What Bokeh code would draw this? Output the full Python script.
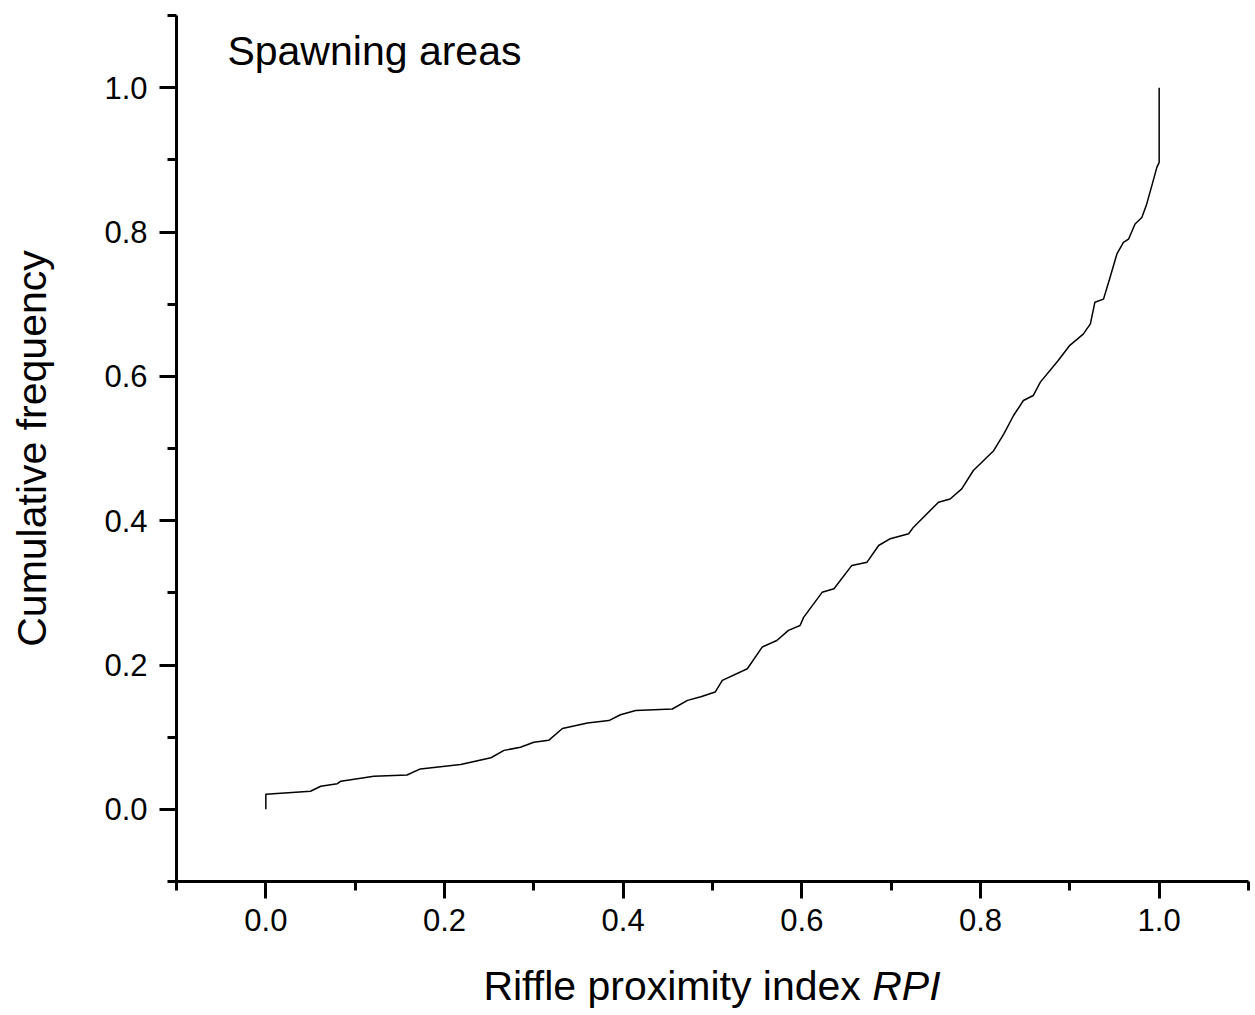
import math
from bokeh.plotting import figure
from bokeh.models import Range1d, FixedTicker, Label, Div, CustomJSTickFormatter
from bokeh.layouts import column
from bokeh.embed import file_html
from bokeh.resources import INLINE

# Data (cumulative frequency curve)
rpi = [0.0, 0.0, 0.05, 0.0615, 0.080, 0.084, 0.121, 0.158, 0.173, 0.218,
       0.252, 0.2666, 0.285, 0.300, 0.3166, 0.332, 0.36, 0.384, 0.397, 0.414,
       0.455, 0.472, 0.487, 0.503, 0.511, 0.539, 0.5556, 0.572, 0.585, 0.598,
       0.602, 0.6227, 0.636, 0.656, 0.673, 0.686, 0.699, 0.7196, 0.725, 0.753,
       0.766, 0.779, 0.792, 0.8147, 0.826, 0.837, 0.848, 0.859, 0.867, 0.887,
       0.900, 0.915, 0.923, 0.928, 0.9377, 0.945, 0.9527, 0.960, 0.9657, 0.973,
       0.9806, 0.986, 0.9918, 0.9974, 1.0, 1.0]
cum_freq = [0.0, 0.021, 0.025, 0.032, 0.0355, 0.039, 0.046, 0.0475, 0.056, 0.062,
            0.0715, 0.0817, 0.086, 0.093, 0.0956, 0.112, 0.1196, 0.123, 0.131, 0.137,
            0.139, 0.151, 0.156, 0.1625, 0.1787, 0.1948, 0.2248, 0.234, 0.248, 0.2548,
            0.266, 0.3007, 0.3056, 0.338, 0.3425, 0.3656, 0.375, 0.3818, 0.391, 0.4256,
            0.430, 0.444, 0.4695, 0.497, 0.520, 0.5457, 0.5665, 0.5734, 0.592, 0.622,
            0.643, 0.6585, 0.6727, 0.7026, 0.707, 0.737, 0.7696, 0.7855, 0.790, 0.811,
            0.820, 0.8386, 0.8643, 0.8896, 0.8965, 1.0]

major_ticks = [0.0, 0.2, 0.4, 0.6, 0.8, 1.0]
minor_ticks = [-0.1, 0.1, 0.3, 0.5, 0.7, 0.9, 1.1]

FONT = "Liberation Sans"

p = figure(width=1255, height=955, output_backend="svg", toolbar_location=None,
           x_range=Range1d(-0.1, 1.1), y_range=Range1d(-0.1, 1.1),
           min_border_left=176, min_border_right=7, min_border_top=15,
           min_border_bottom=74)
p.outline_line_color = None
p.xgrid.visible = False
p.ygrid.visible = False
p.background_fill_color = "white"
p.border_fill_color = "white"

for ax in (p.xaxis[0], p.yaxis[0]):
    ax.ticker = FixedTicker(ticks=major_ticks, minor_ticks=minor_ticks)
    ax.formatter = CustomJSTickFormatter(code="return tick.toFixed(1);")
    ax.axis_line_width = 3
    ax.axis_line_color = "black"
    ax.major_tick_line_width = 3
    ax.minor_tick_line_width = 3
    ax.major_tick_line_color = "black"
    ax.minor_tick_line_color = "black"
    ax.major_tick_out = 17
    ax.major_tick_in = 0
    ax.minor_tick_out = 9
    ax.minor_tick_in = 0
    ax.major_label_text_font = FONT
    ax.major_label_text_font_size = "31px"
    ax.major_label_text_color = "black"
    ax.major_label_standoff = 10

p.yaxis[0].major_label_standoff = 12
p.yaxis[0].axis_label = "Cumulative frequency"
p.yaxis[0].axis_label_text_font = FONT
p.yaxis[0].axis_label_text_font_size = "41px"
p.yaxis[0].axis_label_text_font_style = "normal"
p.yaxis[0].axis_label_text_color = "black"
p.yaxis[0].axis_label_standoff = 46

p.line(rpi, cum_freq, line_color="black", line_width=1.5)

p.add_layout(Label(x=-0.043, y=1.051, text="Spawning areas", text_font=FONT,
                   text_font_size="41px", text_color="black",
                   text_baseline="alphabetic", text_align="left"))

xtitle = Div(text="Riffle proximity index <i>RPI</i>", width=1072, height=60,
             margin=(0, 0, 0, 176),
             styles={"font-family": FONT, "font-size": "41px", "color": "black",
                     "text-align": "center", "white-space": "nowrap",
                     "line-height": "normal", "padding-top": "8px"})

layout = column(p, xtitle, spacing=0)
open("out.html", "w").write(file_html(layout, INLINE))
